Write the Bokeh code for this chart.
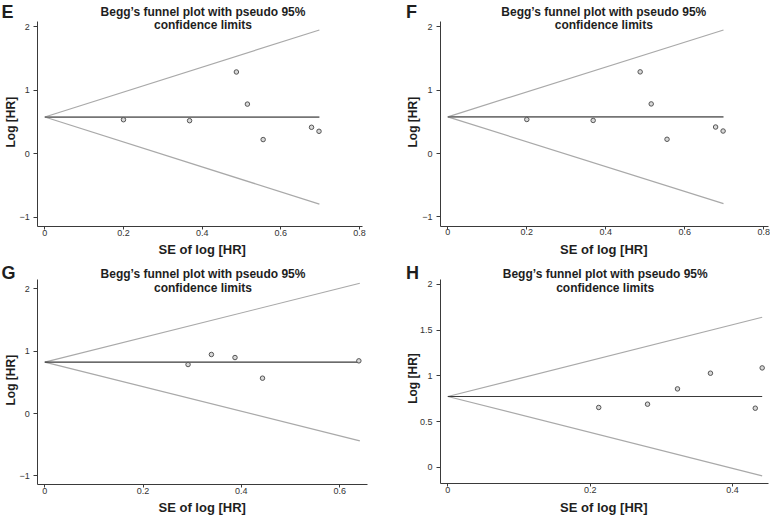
import math
from bokeh.plotting import figure
from bokeh.layouts import column, row
from bokeh.models import Range1d, FixedTicker, Label
from bokeh.embed import file_html
from bokeh.resources import INLINE

# ---------------- data ----------------
title_line1 = "Begg\u2019s funnel plot with pseudo 95%"
title_line2 = "confidence limits"
x_title = "SE of log [HR]"
y_title = "Log [HR]"

# Panel E
e_se = [0.200, 0.368, 0.487, 0.515, 0.555, 0.678, 0.697]
e_loghr = [0.536, 0.521, 1.286, 0.781, 0.224, 0.417, 0.354]
e_pooled = 0.578
e_funnel_se = [0.0, 0.698]
e_upper = [0.578, 1.946]
e_lower = [0.578, -0.790]

# Panel F
f_se = [0.200, 0.368, 0.487, 0.515, 0.555, 0.678, 0.697]
f_loghr = [0.536, 0.521, 1.286, 0.781, 0.224, 0.417, 0.354]
f_pooled = 0.578
f_funnel_se = [0.0, 0.698]
f_upper = [0.578, 1.946]
f_lower = [0.578, -0.790]

# Panel G
g_se = [0.2915, 0.339, 0.387, 0.443, 0.639]
g_loghr = [0.786, 0.947, 0.898, 0.567, 0.845]
g_pooled = 0.824
g_funnel_se = [0.0, 0.641]
g_upper = [0.824, 2.090]
g_lower = [0.824, -0.440]

# Panel H
h_se = [0.212, 0.2806, 0.3227, 0.369, 0.432, 0.4417]
h_loghr = [0.655, 0.691, 0.858, 1.029, 0.647, 1.087]
h_pooled = 0.775
h_funnel_se = [0.0, 0.4417]
h_upper = [0.775, 1.640]
h_lower = [0.775, -0.091]

# ticks
ef_xticks = [0, 0.2, 0.4, 0.6, 0.8]
ef_xtick_labels = ["0", "0.2", "0.4", "0.6", "0.8"]
efg_yticks = [-1, 0, 1, 2]
efg_ytick_labels = ["\u22121", "0", "1", "2"]
g_xticks = [0, 0.2, 0.4, 0.6]
g_xtick_labels = ["0", "0.2", "0.4", "0.6"]
h_xticks = [0, 0.2, 0.4]
h_xtick_labels = ["0", "0.2", "0.4"]
h_yticks = [0, 0.5, 1, 1.5, 2]
h_ytick_labels = ["0", "0.5", "1", "1.5", "2"]

FONT = "Liberation Sans"
AXIS_COLOR = "#3a3a3a"
TEXT_COLOR = "#1e1e1e"


def panel(letter, se, lhr, pooled, fse, upper, lower,
          xlim, ylim, xt, xtl, yt, ytl,
          W, H, axbox, letter_pos, title_pos, ylab_pos, xlab_pos,
          hline_color, hline_width):
    """axbox = (left, right, top, bottom) pixel box of the axis lines in the figure;
    xlim/ylim = data values at those axis ends."""
    al, ar, at, ab = axbox
    xlo, xhi = xlim
    ylo, yhi = ylim
    sx = (ar - al) / (xhi - xlo)
    sy = (ab - at) / (yhi - ylo)
    xr = Range1d(xlo - al / sx, xhi + (W - ar) / sx)
    yr = Range1d(ylo - (H - ab) / sy, yhi + at / sy)

    p = figure(width=W, height=H, title=None, x_range=xr, y_range=yr,
               output_backend="svg", toolbar_location=None,
               min_border_left=0, min_border_right=0,
               min_border_top=0, min_border_bottom=0)
    p.outline_line_color = None
    p.background_fill_color = "white"
    p.border_fill_color = "white"
    p.grid.visible = False

    p.xaxis.fixed_location = ylo
    p.xaxis.bounds = (xlo, xhi)
    p.yaxis.fixed_location = xlo
    p.yaxis.bounds = (ylo, yhi)
    for ax, ticks, labels, standoff, tout in ((p.xaxis, xt, xtl, 0, 3), (p.yaxis, yt, ytl, 4, 4)):
        ax.ticker = FixedTicker(ticks=ticks)
        ax.major_label_overrides = {t: l for t, l in zip(ticks, labels)}
        ax.minor_tick_line_color = None
        ax.major_tick_in = 0
        ax.major_tick_out = tout
        ax.major_tick_line_color = AXIS_COLOR
        ax.axis_line_color = AXIS_COLOR
        ax.axis_line_width = 1
        ax.major_label_text_font = FONT
        ax.major_label_text_font_size = "9px"
        ax.major_label_text_color = "#333333"
        ax.major_label_standoff = standoff
    p.yaxis.major_label_orientation = "horizontal"

    # funnel (pseudo 95% confidence limits)
    p.line(fse, upper, line_color="#a9a9a9", line_width=1.2)
    p.line(fse, lower, line_color="#a9a9a9", line_width=1.2)
    # pooled estimate
    p.line(fse, [pooled, pooled], line_color=hline_color, line_width=hline_width)
    # studies
    p.scatter(se, lhr, size=4.5, line_color="#555555", line_width=1,
              fill_color="#d8d8d8")

    def lab(txt, x, y, size, **kw):
        p.add_layout(Label(x=x, y=H - y, x_units="screen", y_units="screen", text=txt,
                           text_font=FONT, text_font_size=size, text_font_style="bold",
                           text_color=TEXT_COLOR, **kw))

    lab(letter, letter_pos[0], letter_pos[1], "18px", text_align="left", text_baseline="top")
    tx, ty1, ty2 = title_pos
    lab(title_line1, tx, ty1, "12px", text_align="center", text_baseline="middle")
    lab(title_line2, tx, ty2, "12px", text_align="center", text_baseline="middle")
    lab(y_title, ylab_pos[0], ylab_pos[1], "12px", angle=math.pi / 2,
        text_align="center", text_baseline="middle")
    lab(x_title, xlab_pos[0], xlab_pos[1], "13px", text_align="center", text_baseline="middle")
    return p


pE = panel("E", e_se, e_loghr, e_pooled, e_funnel_se, e_upper, e_lower,
           (-0.0178, 0.8068), (-1.142, 2.084), ef_xticks, ef_xtick_labels, efg_yticks, efg_ytick_labels,
           385, 258, (37.3, 361.7, 20.7, 226.0), (1, 1), (202.5, 11.5, 24.5), (10, 121.7), (201.7, 249.3),
           "#757575", 1.8)
pF = panel("F", f_se, f_loghr, f_pooled, f_funnel_se, f_upper, f_lower,
           (-0.0185, 0.8127), (-1.142, 2.084), ef_xticks, ef_xtick_labels, efg_yticks, efg_ytick_labels,
           385, 258, (55.0, 383.3, 20.7, 225.5), (20.5, 1), (218.3, 11.5, 24.5), (27.3, 121.7), (218.3, 249.3),
           "#757575", 1.8)
pG = panel("G", g_se, g_loghr, g_pooled, g_funnel_se, g_upper, g_lower,
           (-0.0142, 0.656), (-1.139, 2.155), g_xticks, g_xtick_labels, efg_yticks, efg_ytick_labels,
           385, 257, (37.3, 366.7, 20.7, 226.0), (1, 4.5), (202.5, 15.3, 29.0), (10, 121.7), (201.7, 249.3),
           "#3a3a3a", 1.2)
pH = panel("H", h_se, h_loghr, h_pooled, h_funnel_se, h_upper, h_lower,
           (-0.0103, 0.451), (-0.178, 2.055), h_xticks, h_xtick_labels, h_yticks, h_ytick_labels,
           385, 257, (55.0, 383.3, 20.7, 225.3), (20.5, 4.5), (219.7, 15.7, 29.3), (27.3, 120.0), (218.3, 249.3),
           "#3a3a3a", 1.2)

layout = column(row(pE, pF), row(pG, pH))
open("out.html", "w").write(file_html(layout, INLINE))
